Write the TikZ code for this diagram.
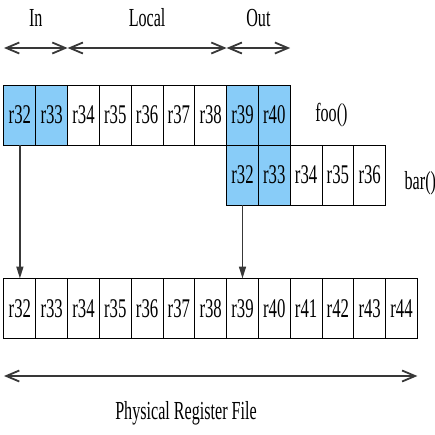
\documentclass[tikz,border=0pt]{standalone}
\usepackage{fontspec}
\setmainfont[FakeStretch=0.62]{Liberation Serif}
\usetikzlibrary{arrows.meta, positioning}
\definecolor{regblue}{HTML}{88CCF8}
\definecolor{arrowgray}{HTML}{383838}

\begin{document}
\begin{tikzpicture}[
    x=0.5pt, y=-0.5pt,
    font=\fontsize{13}{15}\selectfont,
    reg/.style={
        rectangle, draw=black, line width=0.5pt, fill=#1,
        minimum width=15.9pt, minimum height=30pt,
        inner sep=0pt, outer sep=0pt,
        font=\fontsize{13.5}{16}\selectfont
    },
    reg/.default=white,
    span/.style={{Straight Barb[length=6.5pt,width=5.5pt]}-{Straight Barb[length=6.5pt,width=5.5pt]},
        line width=0.9pt, color=arrowgray},
    drop/.style={-{Triangle[length=6pt,width=3.5pt]}, line width=0.8pt, color=arrowgray},
    fname/.style={font=\fontsize{13}{15}\selectfont}
]
\useasboundingbox (0,0) rectangle (435,435);

% Nodes: frame of foo()
\node[reg=regblue] (foo32) at (19.9,115) {r32};
\node[reg=regblue, right=0pt of foo32] (foo33) {r33};
\foreach \i/\p in {34/33,35/34,36/35,37/36,38/37}
    \node[reg, right=0pt of foo\p] (foo\i) {r\i};
\node[reg=regblue, right=0pt of foo38] (foo39) {r39};
\node[reg=regblue, right=0pt of foo39] (foo40) {r40};
\node[fname, right=9pt of foo40] (foo) {foo()};

% Nodes: frame of bar()
\node[reg=regblue, below=0pt of foo39] (bar32) {r32};
\node[reg=regblue, right=0pt of bar32] (bar33) {r33};
\foreach \i/\p in {34/33,35/34,36/35}
    \node[reg, right=0pt of bar\p] (bar\i) {r\i};
\node[fname, right=6pt of bar36, yshift=-4pt] (bar) {bar()};

% Nodes: physical registers
\node[reg] (phys32) at (19.9,308.5) {r32};
\foreach \i [evaluate=\i as \p using int(\i-1)] in {33,...,44}
    \node[reg, right=0pt of phys\p] (phys\i) {r\i};

% Windows above foo()
\coordinate (toprow) at (0,48);
\coordinate (t0) at (foo32.north west |- toprow);
\coordinate (t1) at (foo34.north west |- toprow);
\coordinate (t2) at (foo39.north west |- toprow);
\coordinate (t3) at (foo40.north east |- toprow);
\draw[span] (t0) -- (t1) node[midway, above=7pt, text=black] (in) {In};
\draw[span] (t1) -- (t2) node[midway, above=7pt, text=black] (local) {Local};
\draw[span] (t2) -- (t3) node[midway, above=7pt, text=black] (out) {Out};

% Mapping arrows
\draw[drop] (foo32) -- (phys32);
\draw[drop] (bar32) -- (phys39);

% Whole file
\coordinate (botrow) at (0,376);
\coordinate (b0) at (phys32.south west |- botrow);
\coordinate (b1) at (phys44.south east |- botrow);
\draw[span] (b0) -- (b1);
\node (prf) at (186,413) {Physical Register File};

\end{tikzpicture}
\end{document}
